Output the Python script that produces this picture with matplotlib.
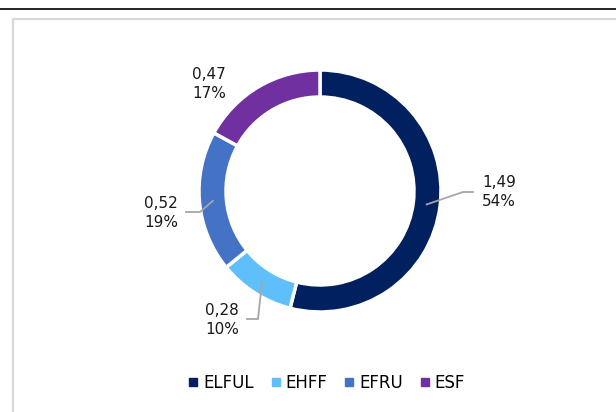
import matplotlib
matplotlib.use("Agg")
import matplotlib.pyplot as plt
import numpy as np
from matplotlib.lines import Line2D
from matplotlib.patches import Rectangle

categories = ["ELFUL", "EHFF", "EFRU", "ESF"]
values = [1.49, 0.28, 0.52, 0.47]
percents = ["54%", "10%", "19%", "17%"]
colors = ["#002060", "#5EBFFA", "#4472C4", "#7030A0"]

plt.rcParams["font.family"] = ["DejaVu Sans"]

W, H = 616, 412
fig = plt.figure(figsize=(W / 100, H / 100), dpi=100)
ax = fig.add_axes([0, 0, 1, 1])

# top rule and frame
ax.plot([0, W], [H - 9, H - 9], color="black", lw=1.2, solid_capstyle="butt")
ax.add_patch(Rectangle((12.5, -10), W + 20, H - 18.5 + 10, fill=False, edgecolor="#D9D9D9", lw=1.6))

cx, cy, R, wd = 320, H - 191, 121, 27
wedges, _ = ax.pie(values, colors=colors, startangle=90, counterclock=False,
                   center=(cx, cy), radius=R, frame=True,
                   wedgeprops=dict(width=wd, edgecolor="white", linewidth=2.5))
ax.set_xlim(0, W)
ax.set_ylim(0, H)
ax.set_aspect("equal")
ax.axis("off")

# label layout (pixel positions, y down)
label_pos = [(499, 192), (222, 320), (161, 213), (209, 84)]
elbows = [((463, 192), (473, 192)), ((258, 319), (247, 319)), ((200, 212), (186, 212)), None]

for w, v, p, lp, el in zip(wedges, values, percents, label_pos, elbows):
    ang = np.deg2rad((w.theta1 + w.theta2) / 2)
    rm = R - wd / 2
    sx, sy = cx + rm * np.cos(ang), cy + rm * np.sin(ang)
    if el is not None:
        (ex, ey), (fx, fy) = el
        ax.plot([sx, ex, fx], [sy, H - ey, H - fy], color="#A6A6A6", lw=1.3)
    txt = f"{v:.2f}".replace(".", ",") + "\n" + p
    ax.text(lp[0], H - lp[1], txt, ha="center", va="center", fontsize=11,
            color="#1a1a1a", linespacing=1.4)

handles = [Line2D([0], [0], marker="s", linestyle="none", markersize=5.5,
                  markerfacecolor=c, markeredgecolor=c) for c in colors]
fig.legend(handles, categories, loc="center", bbox_to_anchor=(325 / W, 1 - 383 / H),
           ncol=4, frameon=False, fontsize=12, handletextpad=0.1,
           columnspacing=0.8, handlelength=1.0)

fig.savefig("out.png", dpi=100)
